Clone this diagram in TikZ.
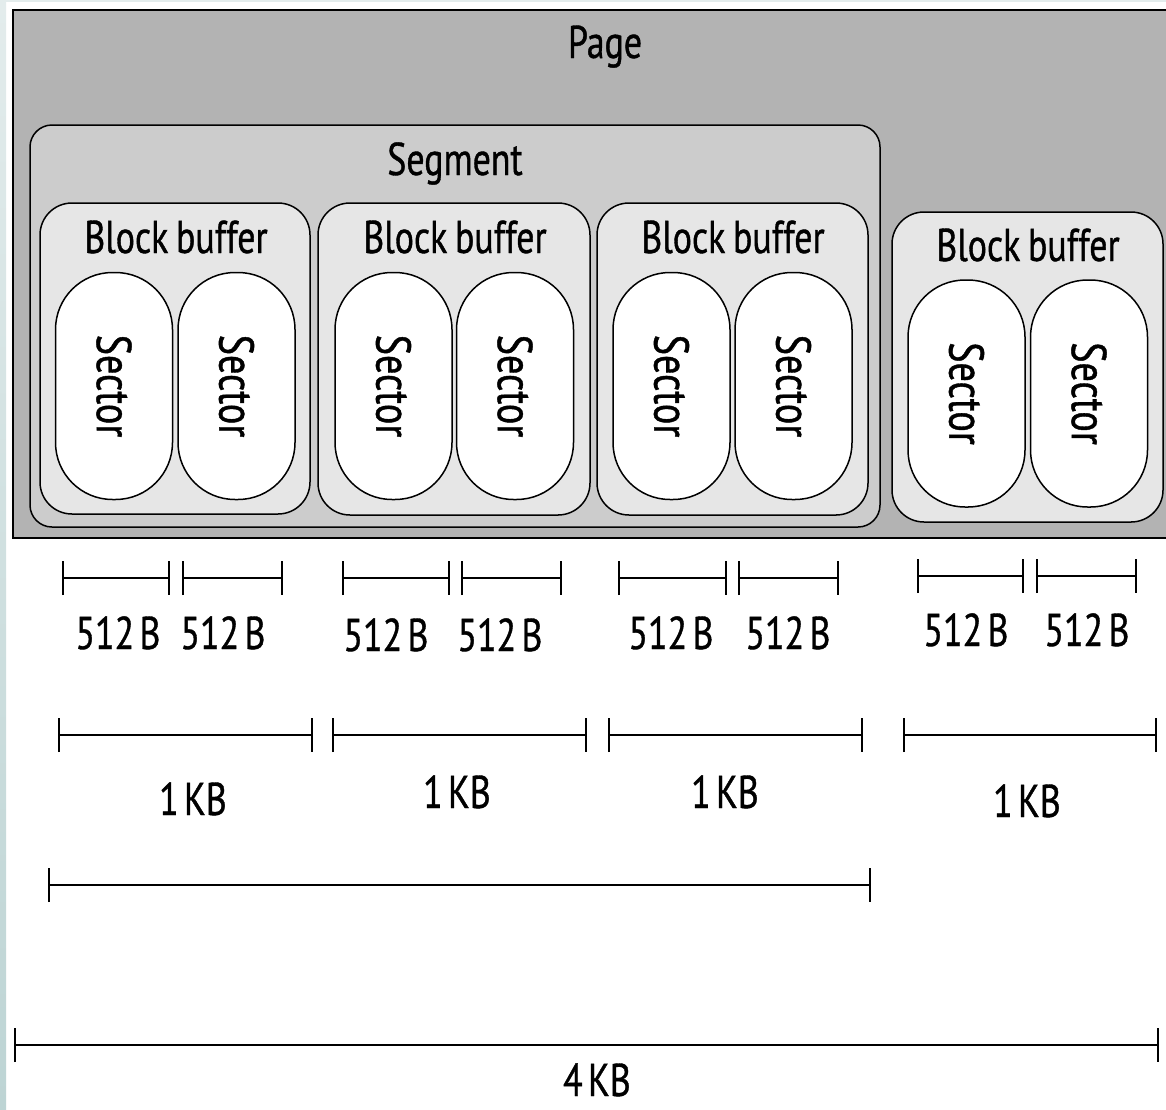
\documentclass[tikz,border=0pt]{standalone}
\usepackage{fontspec}
\setmainfont{PT Sans}[FakeStretch=0.78, FakeBold=0.8, WordSpace=0.8]
\newfontfamily\sizefont{PT Sans}[FakeStretch=0.78, FakeBold=0.8, WordSpace=0.55]
\usetikzlibrary{arrows.meta}
\definecolor{pagegray}{HTML}{B3B3B3}
\definecolor{seggray}{HTML}{CCCCCC}
\definecolor{bbgray}{HTML}{E6E6E6}
\definecolor{stripA}{HTML}{E3ECEC}
\definecolor{stripB}{HTML}{BDD4D4}
\tikzset{
  pagebox/.style={draw=black, line width=2pt, fill=pagegray, inner sep=0pt, outer sep=0pt},
  segbox/.style={draw=black, line width=1.5pt, fill=seggray, rounded corners=22pt, inner sep=0pt, outer sep=0pt, minimum width=850pt, minimum height=402pt},
  bbbox/.style={draw=black, line width=1.5pt, fill=bbgray, rounded corners=32pt, inner sep=0pt, outer sep=0pt, minimum width=271pt, minimum height=311pt},
  sectorbox/.style={draw=black, line width=1.5pt, fill=white, rounded corners=57pt, inner sep=0pt, outer sep=0pt, minimum width=227pt, minimum height=117pt, rotate=-90, font=\fontsize{49}{55}\selectfont},
  lbl/.style={inner sep=0pt, anchor=base, font=\fontsize{46}{52}\selectfont},
  sizelbl/.style={inner sep=0pt, anchor=base, font=\sizefont\fontsize{46}{52}\selectfont},
  dim/.style={line width=2pt, {Bar[width=34pt,line width=2pt]}-{Bar[width=34pt,line width=2pt]}}
}
\begin{document}
\begin{tikzpicture}[x=1pt,y=-1pt]
\useasboundingbox (0,0) rectangle (1166,1109);
\fill[white] (0,0) rectangle (1166,1109);
\shade[top color=stripA, bottom color=stripB] (0,0) rectangle (6,1109);
\fill[stripA] (0,0) rectangle (1166,2);
% page
\node[pagebox, minimum width=1157pt, minimum height=528pt] (page) at (591.5,274) {};
\node[lbl] (pagetxt) at (605,58) {Page};
% segment
\node[segbox] (seg) at (455,326) {};
\node[lbl] (segtxt) at (455,175) {Segment};
% block buffers
\node[bbbox, minimum width=270pt] (bb1) at (175,358.5) {};
\node[bbbox, minimum width=272pt, minimum height=312pt] (bb2) at (454,359) {};
\node[bbbox, minimum height=312pt] (bb3) at (732.5,359) {};
\node[bbbox, minimum height=310pt] (bb4) at (1027.5,367) {};
\node[lbl] (bb1txt) at (176,253) {Block buffer};
\node[lbl] (bb2txt) at (455,253) {Block buffer};
\node[lbl] (bb3txt) at (733,253) {Block buffer};
\node[lbl] (bb4txt) at (1028,261) {Block buffer};
% sectors
\node[sectorbox] (s1) at (114,386) {Sector};
\node[sectorbox] (s2) at (236.5,386) {Sector};
\node[sectorbox] (s3) at (393.5,386) {Sector};
\node[sectorbox] (s4) at (515,386) {Sector};
\node[sectorbox] (s5) at (671.5,386) {Sector};
\node[sectorbox] (s6) at (793.5,386) {Sector};
\node[sectorbox] (s7) at (966.5,393.5) {Sector};
\node[sectorbox] (s8) at (1089,393.5) {Sector};
% 512 B dimension lines
\foreach \i/\a/\b/\y in {1/62/170/578, 2/182/283/578, 3/342/450/578, 4/461/562/578, 5/618/727/578, 6/738/839/578, 7/917/1024/576, 8/1036/1137/576}{
  \coordinate (d\i l) at (\a,\y);
  \coordinate (d\i r) at (\b,\y);
  \draw[dim] (d\i l) -- (d\i r);
}
\foreach \i/\x/\y in {1/118/649, 2/223/649, 3/386/651, 4/500/651, 5/671/649, 6/788/649, 7/966/646, 8/1087/646}{
  \node[sizelbl] (b\i) at (\x,\y) {512 B};
}
% 1 KB dimension lines
\foreach \i/\a/\b in {1/58/313, 2/332/587, 3/608/863, 4/903/1157}{
  \coordinate (k\i l) at (\a,735);
  \coordinate (k\i r) at (\b,735);
  \draw[dim] (k\i l) -- (k\i r);
}
\node[sizelbl] (kb1) at (193,815) {1 KB};
\node[sizelbl] (kb2) at (457,808) {1 KB};
\node[sizelbl] (kb3) at (725,808) {1 KB};
\node[sizelbl] (kb4) at (1027,817) {1 KB};
% segment dimension
\coordinate (segl) at (48,885);
\coordinate (segr) at (871,885);
\draw[dim] (segl) -- (segr);
% page dimension
\coordinate (pgl) at (14,1045);
\coordinate (pgr) at (1159,1045);
\draw[dim] (pgl) -- (pgr);
\node[sizelbl] (kb4total) at (597,1096) {4 KB};
\end{tikzpicture}
\end{document}
